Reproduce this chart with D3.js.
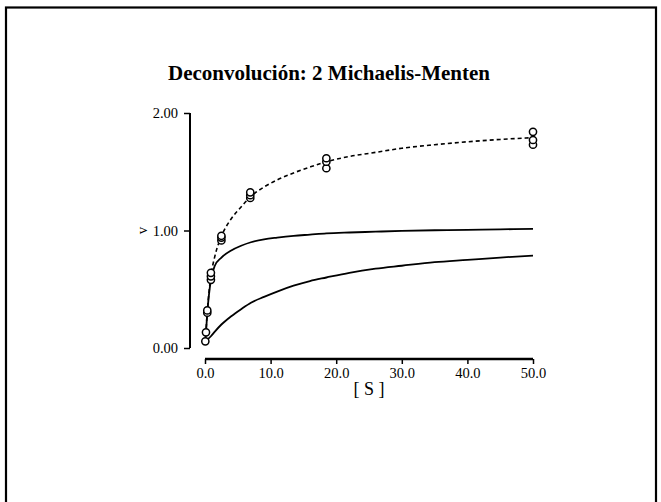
<!DOCTYPE html>
<html>
<head>
<meta charset="utf-8">
<script src="https://cdn.jsdelivr.net/npm/d3@7"></script>
<style>
  body { margin: 0; background: #fff; }
  svg { display: block; }
</style>
</head>
<body>
<svg id="chart" width="661" height="502"></svg>
<script>
// observed substrate concentrations and replicate rates
var sObs = [0.05, 0.15, 0.35, 0.9, 2.5, 6.9, 18.5, 50];
var vObs = [
  [0.057],
  [0.133],
  [0.30, 0.32],
  [0.58, 0.61, 0.64],
  [0.915, 0.94, 0.955],
  [1.277, 1.30, 1.325],
  [1.53, 1.585, 1.615],
  [1.73, 1.77, 1.84]
];

// fitted curves at these [S]
var sCurve = [0.05, 0.35, 0.9, 1.5, 2.5, 4, 5.5, 7, 9, 11, 13.5, 16, 18.5, 22, 26, 30, 35, 40, 45, 50];
var vHigh  = [0.05, 0.30, 0.58, 0.70, 0.77, 0.83, 0.87, 0.90, 0.925, 0.94, 0.955, 0.965, 0.975, 0.983, 0.99, 0.997, 1.002, 1.006, 1.01, 1.013];
var vLow   = [0.055, 0.07, 0.10, 0.14, 0.20, 0.27, 0.33, 0.385, 0.435, 0.48, 0.53, 0.57, 0.60, 0.64, 0.675, 0.70, 0.73, 0.75, 0.77, 0.786];
var vTotal = [0.05, 0.31, 0.61, 0.78, 0.95, 1.10, 1.20, 1.29, 1.37, 1.43, 1.49, 1.54, 1.585, 1.63, 1.665, 1.70, 1.73, 1.755, 1.775, 1.79];

var xTicks = [0, 10, 20, 30, 40, 50];
var yTicks = [0, 1, 2];

var serif = '"Liberation Serif", "Times New Roman", Times, "DejaVu Serif", serif';

var svg = d3.select('#chart');

// frame
svg.append('rect')
  .attr('x', 6).attr('y', 7.5)
  .attr('width', 650).attr('height', 540)
  .attr('fill', 'none').attr('stroke', '#000').attr('stroke-width', 2.2);

var x = d3.scaleLinear().domain([0, 50]).range([205, 533]);
var y = d3.scaleLinear().domain([0, 2]).range([348, 113]);

// title
svg.append('text')
  .attr('x', 329).attr('y', 80)
  .attr('text-anchor', 'middle')
  .attr('font-family', serif)
  .attr('font-size', 21).attr('font-weight', 'bold')
  .text('Deconvolución: 2 Michaelis-Menten');

// y axis
var yAxis = svg.append('g')
  .attr('transform', 'translate(190,0)')
  .call(d3.axisLeft(y).tickValues(yTicks).tickFormat(d3.format('.2f')).tickSize(6).tickPadding(6));
yAxis.attr('font-family', serif);
yAxis.select('.domain').attr('d', 'M0,' + y(0) + 'V' + y(2)).attr('stroke-width', 2);
yAxis.selectAll('.tick line').attr('stroke-width', 1.5);
yAxis.selectAll('text').attr('font-size', 14.5).attr('font-family', serif);

// x axis
var xAxis = svg.append('g')
  .attr('transform', 'translate(0,359)')
  .call(d3.axisBottom(x).tickValues(xTicks).tickFormat(d3.format('.1f')).tickSize(5).tickPadding(4));
xAxis.attr('font-family', serif);
xAxis.select('.domain').attr('d', 'M' + x(0) + ',0H' + x(50)).attr('stroke-width', 2.6);
xAxis.selectAll('.tick line').attr('stroke-width', 1.5);
xAxis.selectAll('text').attr('font-size', 14.5).attr('font-family', serif);

// axis titles
svg.append('text')
  .attr('x', (x(0) + x(50)) / 2).attr('y', 395)
  .attr('text-anchor', 'middle')
  .attr('font-family', serif)
  .attr('font-size', 18)
  .text('[ S ]');

svg.append('text')
  .attr('transform', 'translate(147,' + ((y(0) + y(2)) / 2) + ') rotate(-90)')
  .attr('text-anchor', 'middle')
  .attr('font-family', serif)
  .attr('font-size', 15)
  .text('v');

// curves
var line = d3.line()
  .x(function (d) { return x(d[0]); })
  .y(function (d) { return y(d[1]); })
  .curve(d3.curveMonotoneX);

[vHigh, vLow].forEach(function (vals) {
  svg.append('path')
    .attr('d', line(d3.zip(sCurve, vals)))
    .attr('fill', 'none').attr('stroke', '#000').attr('stroke-width', 1.8);
});

svg.append('path')
  .attr('d', line(d3.zip(sCurve, vTotal)))
  .attr('fill', 'none').attr('stroke', '#000').attr('stroke-width', 1.6)
  .attr('stroke-dasharray', '4,3');

// points
var pts = [];
sObs.forEach(function (s, i) {
  vObs[i].forEach(function (v) { pts.push([s, v]); });
});

svg.append('g').selectAll('circle')
  .data(pts)
  .join('circle')
  .attr('cx', function (d) { return x(d[0]); })
  .attr('cy', function (d) { return y(d[1]); })
  .attr('r', 3.6)
  .attr('fill', '#fff').attr('stroke', '#000').attr('stroke-width', 1.5);
</script>
</body>
</html>
